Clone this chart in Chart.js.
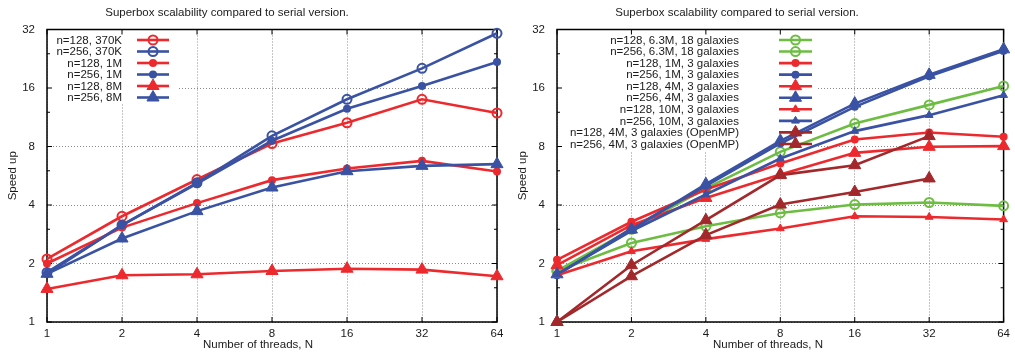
<!DOCTYPE html>
<html><head><meta charset="utf-8">
<script src="https://cdn.jsdelivr.net/npm/chart.js@4"></script>
<style>
html,body{margin:0;padding:0;background:#fff;width:1015px;height:361px;overflow:hidden}
#w1{position:absolute;left:0;top:0;width:524px;height:361px}
#w2{position:absolute;left:510px;top:0;width:505px;height:361px}
</style></head><body>
<div id="w1"><canvas id="c1"></canvas></div>
<div id="w2"><canvas id="c2"></canvas></div>
<script>
// ---------- data ----------
const threads = [1, 2, 4, 8, 16, 32, 64];
const xTicks = [1, 2, 4, 8, 16, 32, 64];
const yTicks = [1, 2, 4, 8, 16, 32];
const yMinorTicks = [1.5, 3, 6, 12, 24];
const chartTitle = 'Superbox scalability compared to serial version.';
const xTitle = 'Number of threads, N';
const yTitle = 'Speed up';

// left panel
const leftLabels = ['n=128, 370K', 'n=256, 370K', 'n=128, 1M', 'n=256, 1M', 'n=128, 8M', 'n=256, 8M'];
const L_n128_370K = [2.11, 3.50, 5.41, 8.29, 10.6, 14.0, 11.9];
const L_n256_370K = [1.80, 3.15, 5.20, 9.08, 14.0, 20.2, 30.6];
const L_n128_1M   = [2.00, 3.06, 4.09, 5.37, 6.16, 6.75, 5.95];
const L_n256_1M   = [1.77, 3.15, 5.16, 8.56, 12.5, 16.4, 21.8];
const L_n128_8M   = [1.48, 1.74, 1.76, 1.83, 1.88, 1.86, 1.72];
const L_n256_8M   = [1.77, 2.69, 3.72, 4.92, 5.97, 6.36, 6.49];

// right panel
const rightLabels = ['n=128, 6.3M, 18 galaxies', 'n=256, 6.3M, 18 galaxies',
  'n=128, 1M, 3 galaxies', 'n=256, 1M, 3 galaxies', 'n=128, 4M, 3 galaxies', 'n=256, 4M, 3 galaxies',
  'n=128, 10M, 3 galaxies', 'n=256, 10M, 3 galaxies',
  'n=128, 4M, 3 galaxies (OpenMP)', 'n=256, 4M, 3 galaxies (OpenMP)'];
const R_n128_63M  = [1.83, 2.55, 3.11, 3.64, 4.02, 4.12, 3.96];
const R_n256_63M  = [1.83, 3.00, 4.87, 7.51, 10.5, 13.1, 16.4];
const R_n128_1M   = [2.09, 3.28, 4.81, 6.54, 8.70, 9.45, 8.98];
const R_n256_1M   = [1.74, 3.03, 5.02, 8.29, 12.8, 18.4, 24.9];
const R_n128_4M   = [1.96, 3.15, 4.35, 5.74, 7.42, 7.97, 8.04];
const R_n256_4M   = [1.76, 2.99, 5.12, 8.56, 13.3, 18.7, 25.3];
const R_n128_10M  = [1.74, 2.31, 2.67, 3.03, 3.50, 3.47, 3.37];
const R_n256_10M  = [1.76, 2.94, 4.53, 6.94, 9.60, 11.6, 14.7];
const R_n128_4M_omp = [1.00, 1.96, 3.34, 5.70, 6.41, 9.05, null];
const R_n256_4M_omp = [1.00, 1.72, 2.80, 4.02, 4.67, 5.48, null];

// ---------- styles ----------
const RED = '#ec2a2e', BLUE = '#3a52a3', GREEN = '#6cbd42', DRED = '#a2282b';
const FONT = "'Liberation Sans', Arial, Helvetica, sans-serif";
const TXT = '#1a1a1a';
const STY = {
  openCircle: {pointStyle: 'circle', pointRadius: 4.5, pointBorderWidth: 2, open: true},
  dot:        {pointStyle: 'circle', pointRadius: 4, pointBorderWidth: 0},
  triBig:     {pointStyle: 'triangle', pointRadius: 7, pointBorderWidth: 1},
  triSmall:   {pointStyle: 'triangle', pointRadius: 4.5, pointBorderWidth: 1}
};

function mkDs(label, arr, color, st, idx) {
  const pts = [];
  threads.forEach((t, i) => { if (arr[i] != null) pts.push({x: t, y: arr[i]}); });
  return {
    label, data: pts,
    borderColor: color, borderWidth: 2.6, fill: false, tension: 0,
    pointStyle: st.pointStyle, pointRadius: st.pointRadius,
    pointBorderWidth: st.pointBorderWidth, pointBorderColor: color,
    pointBackgroundColor: st.open ? 'rgba(0,0,0,0)' : color,
    pointHoverRadius: st.pointRadius,
    clip: false, order: -idx
  };
}

// titles, frame, inward ticks, white key box and key entries
const keyPlugin = {
  id: 'gnuKey',
  beforeDatasetsDraw(chart, args, o) {
    const ctx = chart.ctx, a = chart.chartArea;
    const xs = chart.scales.x, ys = chart.scales.y;
    ctx.save();
    ctx.fillStyle = '#fff';
    ctx.fillRect(a.left + 1, a.top + 1, o.boxRight - a.left - 1, o.boxBottom - a.top - 1);
    ctx.strokeStyle = '#000';
    ctx.lineWidth = 1.5;
    ctx.strokeRect(a.left, a.top, a.right - a.left, a.bottom - a.top);
    ctx.lineWidth = 1;
    ctx.beginPath();
    yTicks.forEach(v => {
      const p = ys.getPixelForValue(v);
      ctx.moveTo(a.left, p); ctx.lineTo(a.left + 5, p);
      ctx.moveTo(a.right, p); ctx.lineTo(a.right - 5, p);
    });
    yMinorTicks.forEach(v => {
      const p = ys.getPixelForValue(v);
      ctx.moveTo(a.left, p); ctx.lineTo(a.left + 3, p);
      ctx.moveTo(a.right, p); ctx.lineTo(a.right - 3, p);
    });
    xTicks.forEach(v => {
      const p = xs.getPixelForValue(v);
      ctx.moveTo(p, a.bottom); ctx.lineTo(p, a.bottom - 5);
      ctx.moveTo(p, a.top); ctx.lineTo(p, a.top + 5);
    });
    ctx.stroke();
    // titles
    ctx.fillStyle = TXT;
    ctx.font = '11.5px ' + FONT;
    ctx.textAlign = 'center';
    ctx.textBaseline = 'middle';
    ctx.fillText(chartTitle, o.titleX, 13);
    ctx.fillText(xTitle, o.xTitleX, 345);
    ctx.restore();
  },
  afterDatasetsDraw(chart, args, o) {
    const ctx = chart.ctx;
    ctx.save();
    ctx.font = '11.5px ' + FONT;
    ctx.textAlign = 'right';
    ctx.textBaseline = 'middle';
    chart.data.datasets.forEach((ds, i) => {
      const y = o.top + i * o.rowH;
      ctx.fillStyle = TXT;
      ctx.fillText(ds.label, o.textRight, y + 0.5);
      ctx.strokeStyle = ds.borderColor;
      ctx.lineWidth = ds.borderWidth;
      ctx.beginPath(); ctx.moveTo(o.lineX0, y); ctx.lineTo(o.lineX1, y); ctx.stroke();
      ctx.fillStyle = ds.pointBackgroundColor;
      ctx.strokeStyle = ds.pointBorderColor;
      ctx.lineWidth = ds.pointBorderWidth;
      Chart.helpers.drawPoint(ctx, {pointStyle: ds.pointStyle, radius: ds.pointRadius,
        borderWidth: ds.pointBorderWidth, rotation: 0}, (o.lineX0 + o.lineX1) / 2, y);
    });
    ctx.restore();
  }
};

function mkOptions(padRight, key) {
  const tickFont = {family: FONT, size: 11.5};
  return {
    responsive: true, maintainAspectRatio: false, animation: false, events: [],
    layout: {padding: {left: 0, right: padRight, top: 29.5, bottom: 0}},
    plugins: {
      legend: {display: false}, tooltip: {enabled: false}, title: {display: false},
      gnuKey: key
    },
    scales: {
      x: {
        type: 'logarithmic', min: 1, max: 64,
        afterBuildTicks: s => { s.ticks = xTicks.map(v => ({value: v})); },
        afterFit: s => { s.height = 39; },
        ticks: {color: TXT, font: tickFont, padding: 5, maxRotation: 0, autoSkip: false,
          callback: v => String(v)},
        grid: {color: '#8a8a8a', lineWidth: 1, drawTicks: false},
        border: {display: false, dash: [1, 2]},
        title: {display: false}
      },
      y: {
        type: 'logarithmic', min: 1, max: 32,
        afterBuildTicks: s => { s.ticks = yTicks.map(v => ({value: v})); },
        afterFit: s => { s.width = 47; },
        ticks: {color: TXT, font: tickFont, padding: 12, autoSkip: false,
          callback: v => String(v)},
        grid: {color: '#8a8a8a', lineWidth: 1, drawTicks: false},
        border: {display: false, dash: [1, 2]},
        title: {display: true, text: yTitle, color: TXT, font: tickFont, padding: {top: 6, bottom: 0}}
      }
    }
  };
}

const leftSeries = [
  [L_n128_370K, RED, STY.openCircle], [L_n256_370K, BLUE, STY.openCircle],
  [L_n128_1M, RED, STY.dot], [L_n256_1M, BLUE, STY.dot],
  [L_n128_8M, RED, STY.triBig], [L_n256_8M, BLUE, STY.triBig]
];
const rightSeries = [
  [R_n128_63M, GREEN, STY.openCircle], [R_n256_63M, GREEN, STY.openCircle],
  [R_n128_1M, RED, STY.dot], [R_n256_1M, BLUE, STY.dot],
  [R_n128_4M, RED, STY.triBig], [R_n256_4M, BLUE, STY.triBig],
  [R_n128_10M, RED, STY.triSmall], [R_n256_10M, BLUE, STY.triSmall],
  [R_n128_4M_omp, DRED, STY.triBig], [R_n256_4M_omp, DRED, STY.triBig]
];

new Chart(document.getElementById('c1'), {
  type: 'line',
  data: {datasets: leftSeries.map((s, i) => mkDs(leftLabels[i], s[0], s[1], s[2], i))},
  options: mkOptions(27, {boxRight: 177, boxBottom: 104, top: 40, rowH: 11.5, textRight: 122,
    lineX0: 137, lineX1: 169, titleX: 227, xTitleX: 258}),
  plugins: [keyPlugin]
});
new Chart(document.getElementById('c2'), {
  type: 'line',
  data: {datasets: rightSeries.map((s, i) => mkDs(rightLabels[i], s[0], s[1], s[2], i))},
  options: mkOptions(8, {boxRight: 308, boxBottom: 151, top: 40, rowH: 11.55, textRight: 229,
    lineX0: 269, lineX1: 302, titleX: 227, xTitleX: 258}),
  plugins: [keyPlugin]
});
</script>
</body></html>
